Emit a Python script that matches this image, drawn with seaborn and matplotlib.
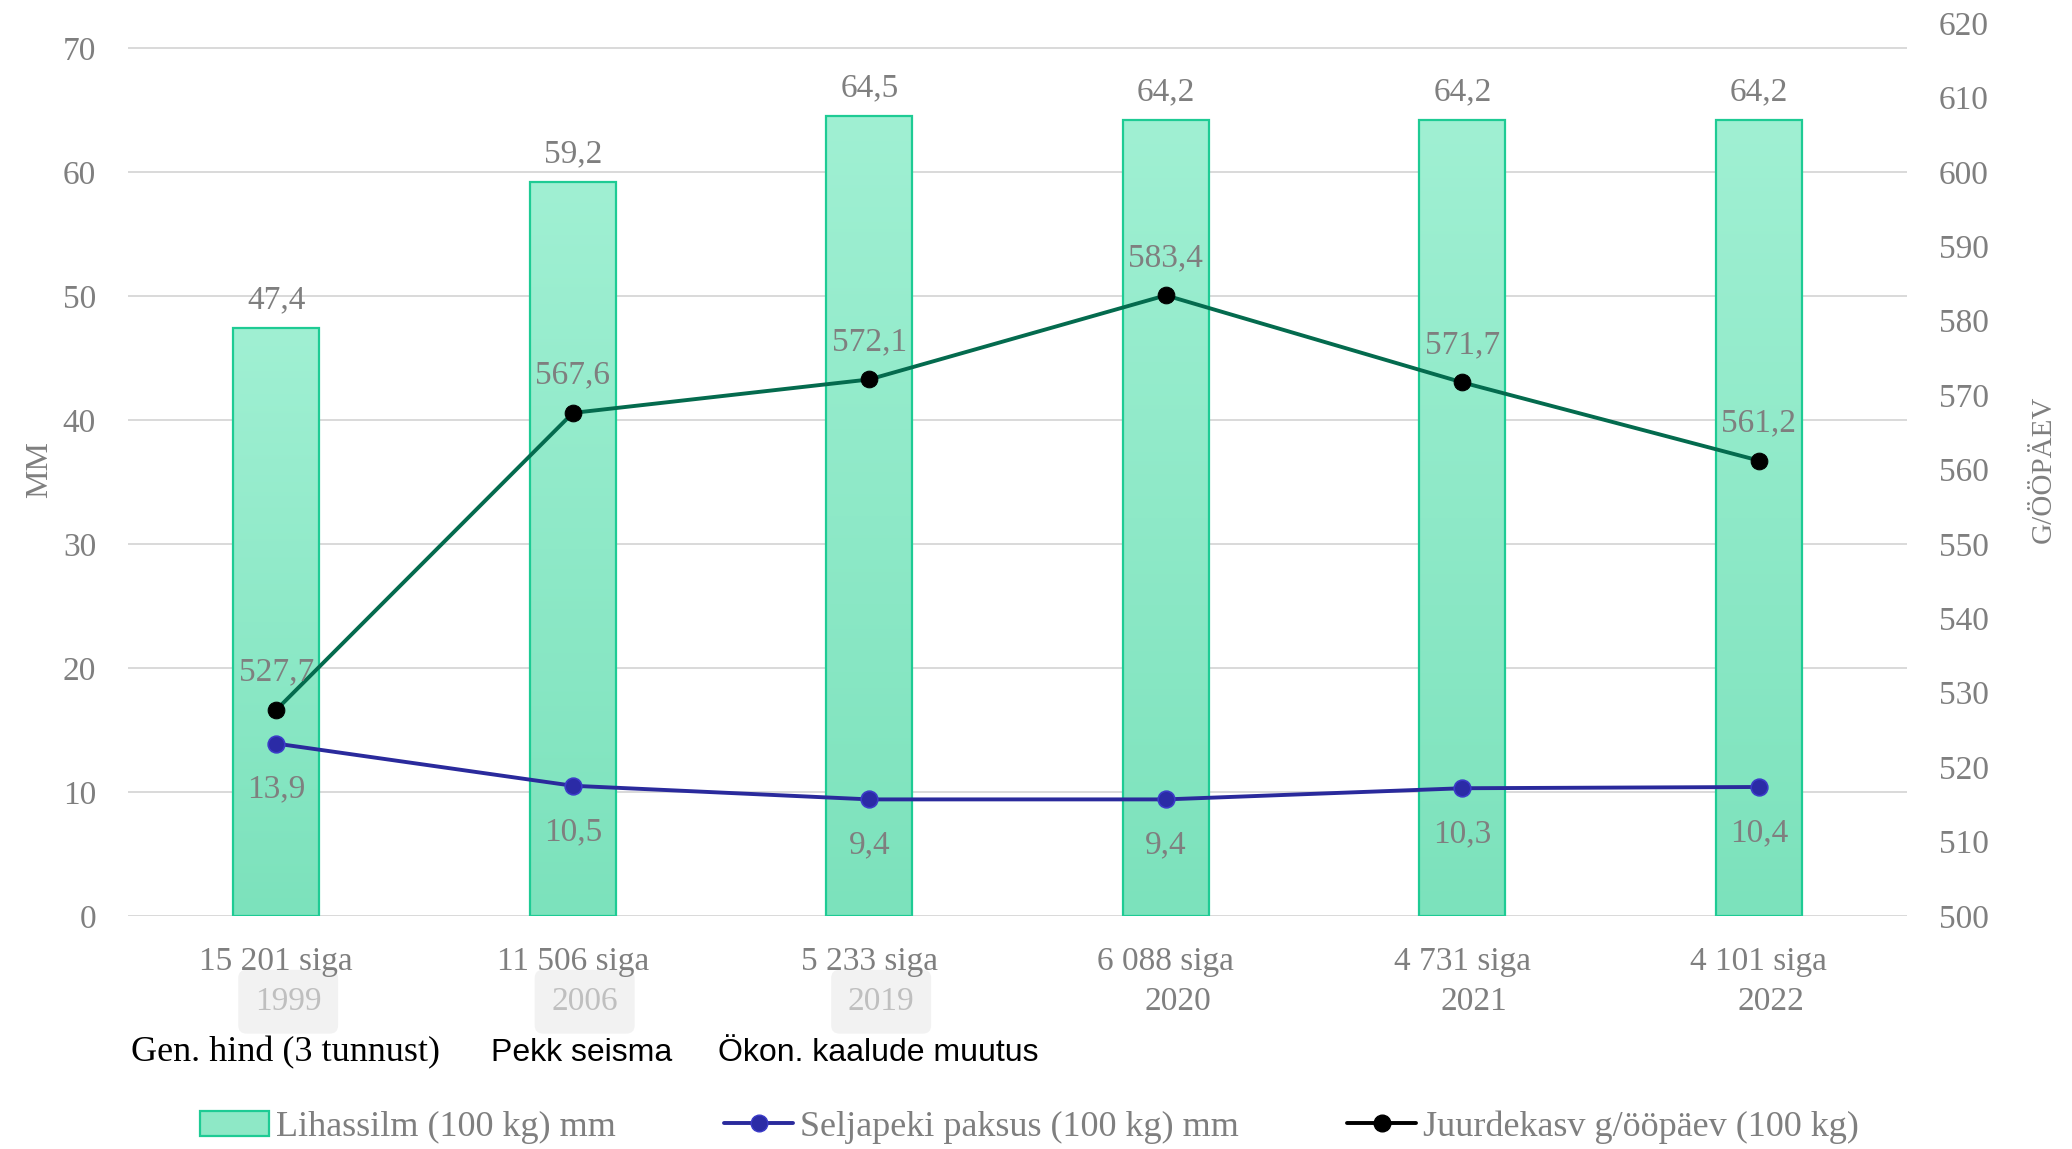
import numpy as np
import pandas as pd
import seaborn as sns
import matplotlib.pyplot as plt
from matplotlib.colors import LinearSegmentedColormap
from matplotlib.patches import Patch
from matplotlib.lines import Line2D
from matplotlib.transforms import blended_transform_factory

# chart data
years = ["1999", "2006", "2019", "2020", "2021", "2022"]
pigs = ["15 201 siga", "11 506 siga", "5 233 siga", "6 088 siga", "4 731 siga", "4 101 siga"]
lihassilm = [47.4, 59.2, 64.5, 64.2, 64.2, 64.2]
seljapekk = [13.9, 10.5, 9.4, 9.4, 10.3, 10.4]
juurdekasv = [527.7, 567.6, 572.1, 583.4, 571.7, 561.2]
notes = ["Gen. hind (3 tunnust)", "Pekk seisma", "Ökon. kaalude muutus"]
shaded_years = ["1999", "2006", "2019"]

GREY = "#7F7F7F"
BAR_EDGE = "#1ECB94"
GREEN = "#046B4E"
BLUE = "#2A2A9C"

sns.set_theme(style="white")
plt.rcParams['font.family'] = ['Liberation Serif', 'DejaVu Serif']

df = pd.DataFrame({"year": years, "pos": np.arange(len(years)),
                   "lihassilm": lihassilm, "seljapekk": seljapekk,
                   "juurdekasv": juurdekasv})

fig = plt.figure(figsize=(20.72, 11.49), dpi=100)
ax = fig.add_axes([0.0618, 0.2028, 0.8586, 0.7772])

# bars (left axis)
sns.barplot(data=df, x="year", y="lihassilm", width=0.29, color="#8EE8C6",
            edgecolor=BAR_EDGE, linewidth=1.6, ax=ax, zorder=2)

# vertical gradient inside bars
cmap = LinearSegmentedColormap.from_list("bar", ["#7CE2BC", "#A0F0D3"])
grad = np.linspace(0, 1, 256).reshape(-1, 1)
for p in list(ax.patches):
    x0, w, h = p.get_x(), p.get_width(), p.get_height()
    im = ax.imshow(grad, extent=[x0, x0 + w, 0, h], origin="lower", aspect="auto",
                   cmap=cmap, zorder=2.1)
    im.set_clip_path(p)
    p.set_facecolor("none")
    p.set_zorder(2.2)
ax.set_xlim(-0.5, len(years) - 0.5)
ax.set_ylim(0, 72)

for i, v in enumerate(lihassilm):
    ax.annotate(f"{v:.1f}".replace(".", ","), (i, v), xytext=(0, 20),
                textcoords="offset points", ha="center", va="center",
                fontsize=24, color=GREY, zorder=5)

# back fat line (left axis)
sns.lineplot(data=df, x="pos", y="seljapekk", color=BLUE, linewidth=2.8,
             marker="o", markersize=12, markerfacecolor="#2B2BA6",
             markeredgecolor="#3B3BC8", markeredgewidth=1.2, ax=ax, zorder=4)
for i, v in enumerate(seljapekk):
    ax.annotate(f"{v:.1f}".replace(".", ","), (i, v), xytext=(0, -33),
                textcoords="offset points", ha="center", va="center",
                fontsize=24, color=GREY, zorder=5)

ax.set_yticks(range(0, 71, 10))
ax.yaxis.grid(True, color="#D9D9D9", linewidth=1.4)
ax.set_axisbelow(True)
for s in ax.spines.values():
    s.set_visible(False)
ax.tick_params(axis="both", length=0, labelcolor=GREY)
ax.tick_params(axis="y", labelsize=24, pad=23)
ax.set_xticks(range(len(years)))
ax.set_xticklabels(pigs, fontsize=24)
ax.tick_params(axis="x", pad=22)
ax.set_xlabel("")
ax.set_ylabel("MM", fontsize=23, color=GREY, labelpad=6)

# daily gain line (right axis)
ax2 = ax.twinx()
sns.lineplot(data=df, x="pos", y="juurdekasv", color=GREEN, linewidth=2.8,
             marker="o", markersize=12, markerfacecolor="black",
             markeredgecolor="black", ax=ax2, zorder=4)
ax2.set_ylim(500, 620)
ax2.set_yticks(range(500, 621, 10))
ax2.set_xlim(-0.5, len(years) - 0.5)
for i, v in enumerate(juurdekasv):
    ax2.annotate(f"{v:.1f}".replace(".", ","), (i, v), xytext=(0, 27),
                 textcoords="offset points", ha="center", va="center",
                 fontsize=24, color=GREY, zorder=5)
for s in ax2.spines.values():
    s.set_visible(False)
ax2.grid(False)
ax2.tick_params(axis="y", length=0, labelsize=24, labelcolor=GREY, pad=23)
ax2.set_ylabel("G/ÖÖPÄEV", fontsize=21, color=GREY, labelpad=30)

# second line of x labels (years) and notes under them
tr = blended_transform_factory(ax.transData, ax.transAxes)
for i, y in enumerate(years):
    if y in shaded_years:
        ax.text(i + 0.04, -0.096, y, transform=tr, ha="center", va="center",
                fontsize=24, color="#BFBFBF", zorder=0.4,
                bbox=dict(boxstyle="round,pad=0.5,rounding_size=0.25",
                          fc="#F2F2F2", ec="none"))
    else:
        ax.text(i + 0.04, -0.096, y, transform=tr, ha="center", va="center",
                fontsize=24, color=GREY)

note_fonts = [(['Liberation Serif', 'DejaVu Serif'], 26),
              (['Liberation Sans', 'DejaVu Sans'], 23),
              (['Liberation Sans', 'DejaVu Sans'], 23)]
for i, (t, (fam, fs)) in enumerate(zip(notes, note_fonts)):
    ax.text(i + 0.03, -0.153, t, transform=tr, ha="center", va="center",
            fontsize=fs, color="black", family=fam)

# legend
handles = [
    Patch(facecolor="#8EE8C6", edgecolor=BAR_EDGE, linewidth=1.6),
    Line2D([], [], color=BLUE, linewidth=2.8, marker="o", markersize=12,
           markerfacecolor="#2B2BA6", markeredgecolor="#3B3BC8"),
    Line2D([], [], color="black", linewidth=2.8, marker="o", markersize=12,
           markerfacecolor="black"),
]
labels = ["Lihassilm (100 kg) mm", "Seljapeki paksus (100 kg) mm",
          "Juurdekasv g/ööpäev (100 kg)"]
fig.legend(handles, labels, loc="center", bbox_to_anchor=(0.497, 0.019), ncol=3,
           frameon=False, fontsize=26, labelcolor=GREY, handlelength=1.9,
           handletextpad=0.2, columnspacing=3.0)

fig.savefig("out.png", dpi=100)
